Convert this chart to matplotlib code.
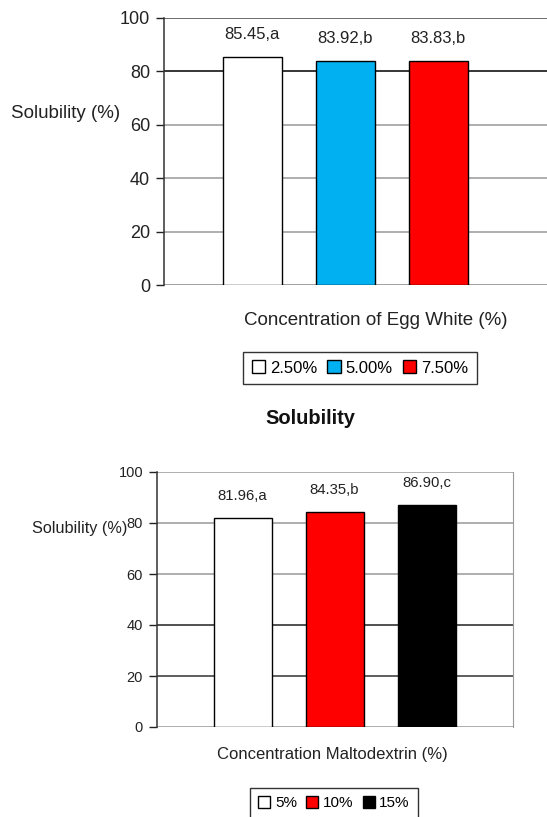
import matplotlib
matplotlib.use("Agg")
import matplotlib.pyplot as plt
from matplotlib.patches import Patch

plt.rcParams['font.family'] = ['Liberation Sans', 'DejaVu Sans']

# Top chart data
egg_labels = ["2.50%", "5.00%", "7.50%"]
egg_values = [85.45, 83.92, 83.83]
egg_letters = ["a", "b", "b"]
egg_colors = ["#ffffff", "#00b0f0", "#ff0000"]

# Bottom chart data
malto_labels = ["5%", "10%", "15%"]
malto_values = [81.96, 84.35, 86.90]
malto_letters = ["a", "b", "c"]
malto_colors = ["#ffffff", "#ff0000", "#000000"]

yticks = [0, 20, 40, 60, 80, 100]

fig = plt.figure(figsize=(5.47, 8.17), dpi=100)
W, H = 547, 817

def ax_rect(l, r, t, b):
    return [l / W, 1 - b / H, (r - l) / W, (b - t) / H]

def draw(ax, values, letters, colors, grid_colors, fs, tfs, xlim, right_spine):
    x = list(range(len(values)))
    for gy, gc in zip(yticks, grid_colors):
        ax.axhline(gy, color=gc, lw=1.1, zorder=1)
    ax.bar(x, values, width=0.63, color=colors, edgecolor="black", lw=1.0, zorder=3)
    for xi, v, l in zip(x, values, letters):
        ax.annotate(f"{v:.2f},{l}", (xi, v), xytext=(0, 11), textcoords="offset points",
                    ha="center", va="bottom", fontsize=fs, color="#222222")
    ax.set_ylim(0, 100)
    ax.set_xlim(*xlim)
    ax.set_yticks(yticks)
    ax.set_xticks([])
    ax.tick_params(axis="y", length=6, width=1, labelsize=tfs, colors="#222222", pad=4)
    for s in ["top", "bottom"]:
        ax.spines[s].set_visible(False)
    ax.spines["left"].set_color("#333333")
    ax.spines["left"].set_linewidth(1.1)
    if right_spine:
        ax.spines["right"].set_color("#999999")
    else:
        ax.spines["right"].set_visible(False)

# Top
ax1 = fig.add_axes(ax_rect(164, 547, 18, 285))
draw(ax1, egg_values, egg_letters, egg_colors,
     ["#888888", "#999999", "#999999", "#999999", "#000000", "#444444"],
     12, 13, (-0.95, 3.17), False)
fig.text(66 / W, 1 - 113 / H, "Solubility (%)", ha="center", va="center", fontsize=13.5, color="#222222")
fig.text(376 / W, 1 - 320 / H, "Concentration of Egg White (%)", ha="center", va="center",
         fontsize=13.5, color="#222222")
h1 = [Patch(facecolor=c, edgecolor="black", lw=1) for c in egg_colors]
fig.legend(h1, egg_labels, loc="center", bbox_to_anchor=(360 / W, 1 - 368 / H), ncol=3,
           fontsize=12, frameon=True, fancybox=False, edgecolor="black", handlelength=0.8,
           handleheight=0.8, handletextpad=0.3, columnspacing=0.6, borderpad=0.5)
fig.text(310 / W, 1 - 418 / H, "Solubility", ha="center", va="center", fontsize=14.5,
         fontweight="bold", color="#111111")

# Bottom
ax2 = fig.add_axes(ax_rect(157, 513, 472, 727))
draw(ax2, malto_values, malto_letters, malto_colors,
     ["#999999", "#333333", "#222222", "#999999", "#999999", "#999999"],
     10.7, 10.5, (-0.93, 2.94), True)
fig.text(80 / W, 1 - 529 / H, "Solubility (%)", ha="center", va="center", fontsize=11.7, color="#222222")
fig.text(332 / W, 1 - 755 / H, "Concentration Maltodextrin (%)", ha="center", va="center",
         fontsize=12, color="#222222")
h2 = [Patch(facecolor=c, edgecolor="black", lw=1) for c in malto_colors]
fig.legend(h2, malto_labels, loc="center", bbox_to_anchor=(334 / W, 1 - 803 / H), ncol=3,
           fontsize=11, frameon=True, fancybox=False, edgecolor="black", handlelength=0.8,
           handleheight=0.8, handletextpad=0.3, columnspacing=0.6, borderpad=0.5)

fig.savefig("out.png", dpi=100)
